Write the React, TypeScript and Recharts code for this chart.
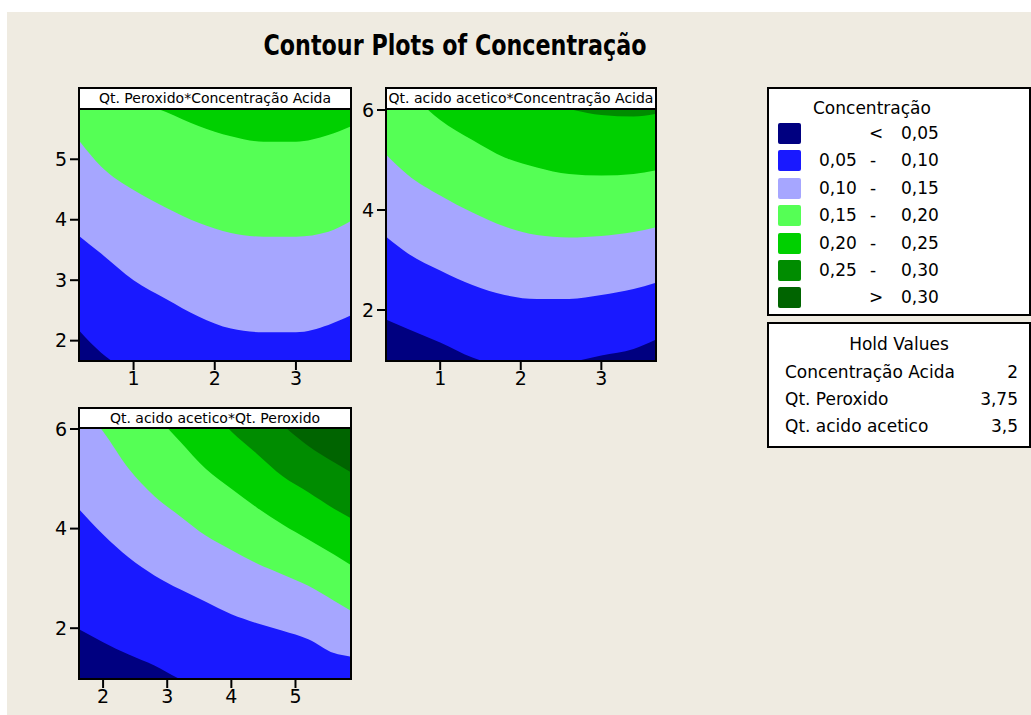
import React from 'react';
import { AreaChart, Area, XAxis, YAxis, CartesianGrid } from 'recharts';

const FONT = '"DejaVu Sans", Verdana, sans-serif';

// band colours, low -> high
const navy = '#000080';
const blue = '#1919FF';
const lavender = '#A6A6FF';
const lightGreen = '#55FF55';
const green = '#00D000';
const darkGreen = '#008C00';
const darkestGreen = '#006400';

// panel 1: Qt. Peroxido (y) vs Concentração Acida (x)
const p1X = [0.34, 0.6, 1.0, 1.4, 1.8, 2.2, 2.6, 3.0, 3.4, 3.666];
const p1B20 = [6.6, 6.3, 6.0, 5.78, 5.55, 5.38, 5.29, 5.29, 5.4, 5.54];
const p1B15 = [5.29, 4.88, 4.49, 4.2, 3.95, 3.78, 3.72, 3.72, 3.8, 3.97];
const p1B10 = [3.72, 3.44, 3.0, 2.69, 2.4, 2.2, 2.14, 2.14, 2.26, 2.41];
const p1B05 = [2.15, 1.8, 1.45, 1.2, 1.05, 1.0, 1.0, 1.05, 1.15, 1.25];

// panel 2: Qt. acido acetico (y) vs Concentração Acida (x)
const p2X = [0.34, 0.6, 1.0, 1.4, 1.8, 2.2, 2.6, 3.0, 3.4, 3.666];
const p2B25 = [7.5, 7.2, 6.9, 6.6, 6.35, 6.18, 6.02, 5.9, 5.87, 5.92];
const p2B20 = [6.9, 6.4, 5.8, 5.4, 5.05, 4.85, 4.72, 4.69, 4.72, 4.79];
const p2B15 = [5.09, 4.7, 4.29, 3.95, 3.67, 3.5, 3.45, 3.48, 3.56, 3.65];
const p2B10 = [3.45, 3.13, 2.79, 2.5, 2.3, 2.22, 2.22, 2.3, 2.42, 2.54];
const p2B05 = [1.8, 1.62, 1.35, 1.05, 0.88, 0.85, 0.95, 1.09, 1.22, 1.4];

// panel 3: Qt. acido acetico (y) vs Qt. Peroxido (x)
const p3X = [1.64, 2.0, 2.4, 2.8, 3.2, 3.6, 4.0, 4.4, 4.8, 5.2, 5.6, 5.85];
const p3B30 = [10, 9.6, 9.1, 8.6, 8.1, 7.6, 7.1, 6.6, 6.08, 5.66, 5.33, 5.14];
const p3B25 = [8.6, 8.3, 7.9, 7.45, 7.0, 6.5, 5.95, 5.5, 5.05, 4.73, 4.4, 4.22];
const p3B20 = [7.6, 7.3, 6.85, 6.3, 5.75, 5.2, 4.8, 4.42, 4.08, 3.78, 3.48, 3.28];
const p3B15 = [6.5, 5.95, 5.2, 4.65, 4.25, 3.86, 3.57, 3.3, 3.08, 2.85, 2.55, 2.36];
const p3B10 = [4.37, 3.88, 3.42, 3.06, 2.78, 2.53, 2.28, 2.1, 1.95, 1.78, 1.5, 1.43];
const p3B05 = [1.97, 1.72, 1.47, 1.25, 0.98, 0.85, 0.72, 0.6, 0.5, 0.42, 0.35, 0.3];

// legend
const legendColors = [navy, blue, lavender, lightGreen, green, darkGreen, darkestGreen];
const legendLow = ['', '0,05', '0,10', '0,15', '0,20', '0,25', ''];
const legendSep = ['<', '-', '-', '-', '-', '-', '>'];
const legendHigh = ['0,05', '0,10', '0,15', '0,20', '0,25', '0,30', '0,30'];

const holdNames = ['Concentração Acida', 'Qt. Peroxido', 'Qt. acido acetico'];
const holdValues = ['2', '3,75', '3,5'];

const tickStyle = { fontSize: 19, fill: '#000', fontFamily: FONT };
const tickLineStyle = { stroke: '#000', strokeWidth: 2 };

function ContourPanel({ left, top, width, height, xs, bounds, fills, topFill, xDomain, yDomain, xTicks, yTicks }: any) {
  const data = xs.map((x: number, i: number) => {
    const row: Record<string, number> = { x };
    bounds.forEach((b: number[], k: number) => {
      row['b' + k] = b[i];
    });
    return row;
  });
  return (
    <div style={{ position: 'absolute', left, top }}>
      <AreaChart width={width} height={height} data={data} margin={{ top: 10, right: 10, bottom: 0, left: 0 }}>
        <CartesianGrid horizontal={false} vertical={false} fill={topFill} fillOpacity={1} />
        <XAxis type="number" dataKey="x" domain={xDomain} ticks={xTicks} allowDataOverflow interval={0}
          axisLine={false} tickSize={10} tickMargin={2} height={40} tickLine={tickLineStyle} tick={tickStyle} />
        <YAxis type="number" domain={yDomain} ticks={yTicks} allowDataOverflow interval={0}
          axisLine={false} tickSize={10} tickMargin={3} width={70} tickLine={tickLineStyle} tick={tickStyle} />
        {bounds.map((_: number[], k: number) => (
          <Area key={k} type="monotone" dataKey={'b' + k} stroke="none" fill={fills[k]} fillOpacity={1}
            baseValue="dataMin" dot={false} activeDot={false} isAnimationActive={false} />
        ))}
      </AreaChart>
    </div>
  );
}

function Frame({ left, top, width, height, headerHeight, title }: any) {
  return (
    <>
      <div style={{ position: 'absolute', left, top, width, height, border: '2px solid #000', boxSizing: 'border-box', pointerEvents: 'none' }} />
      <div style={{
        position: 'absolute', left, top, width, height: headerHeight, border: '2px solid #000', boxSizing: 'border-box',
        background: '#fff', fontFamily: FONT, fontSize: 14, lineHeight: `${headerHeight - 4}px`, textAlign: 'center', whiteSpace: 'nowrap', color: '#000'
      }}>{title}</div>
    </>
  );
}

export default function App() {
  return (
    <div style={{ position: 'absolute', left: 0, top: 0, width: 1031, height: 715, background: '#fff', overflow: 'hidden' }}>
      <div style={{ position: 'absolute', left: 7, top: 12, width: 1024, height: 703, background: '#EFEBE1' }} />
      <svg style={{ position: 'absolute', left: 0, top: 0 }} width={1031} height={80}>
        <text x={455} y={55} textAnchor="middle" fontFamily={FONT} fontWeight="bold" fontSize={28}
          textLength={383} lengthAdjust="spacingAndGlyphs" fill="#000">Contour Plots of Concentração</text>
      </svg>

      <ContourPanel left={10} top={100} width={350} height={300} xs={p1X}
        bounds={[p1B20, p1B15, p1B10, p1B05]} fills={[lightGreen, lavender, blue, navy]} topFill={green}
        xDomain={[0.34, 3.666]} yDomain={[1.68, 5.815]} xTicks={[1, 2, 3]} yTicks={[2, 3, 4, 5]} />
      <ContourPanel left={317} top={100} width={348} height={300} xs={p2X}
        bounds={[p2B25, p2B20, p2B15, p2B10, p2B05]} fills={[green, lightGreen, lavender, blue, navy]} topFill={darkGreen}
        xDomain={[0.34, 3.666]} yDomain={[1, 6]} xTicks={[1, 2, 3]} yTicks={[2, 4, 6]} />
      <ContourPanel left={10} top={419} width={350} height={299} xs={p3X}
        bounds={[p3B30, p3B25, p3B20, p3B15, p3B10, p3B05]} fills={[darkGreen, green, lightGreen, lavender, blue, navy]} topFill={darkestGreen}
        xDomain={[1.64, 5.85]} yDomain={[1, 6]} xTicks={[2, 3, 4, 5]} yTicks={[2, 4, 6]} />

      <Frame left={78} top={87} width={274} height={275} headerHeight={23} title="Qt. Peroxido*Concentração Acida" />
      <Frame left={385} top={87} width={272} height={275} headerHeight={23} title="Qt. acido acetico*Concentração Acida" />
      <Frame left={78} top={407} width={274} height={273} headerHeight={22} title="Qt. acido acetico*Qt. Peroxido" />

      <div style={{ position: 'absolute', left: 767, top: 87, width: 264, height: 229, border: '2px solid #000', boxSizing: 'border-box', background: '#fff', fontFamily: FONT, fontSize: 17, color: '#000' }}>
        <div style={{ position: 'absolute', left: 44, top: 7, lineHeight: '24px' }}>Concentração</div>
        {legendColors.map((c, i) => (
          <React.Fragment key={i}>
            <div style={{ position: 'absolute', left: 9, top: 34 + i * 27.4, width: 23, height: 21, background: c, borderRadius: 2 }} />
            <div style={{ position: 'absolute', left: 50, top: 32 + i * 27.4, lineHeight: '24px' }}>{legendLow[i]}</div>
            <div style={{ position: 'absolute', left: legendSep[i] === '-' ? 101 : 100, top: 32 + i * 27.4, lineHeight: '24px' }}>{legendSep[i]}</div>
            <div style={{ position: 'absolute', left: 132, top: 32 + i * 27.4, lineHeight: '24px' }}>{legendHigh[i]}</div>
          </React.Fragment>
        ))}
      </div>

      <div style={{ position: 'absolute', left: 767, top: 322, width: 264, height: 126, border: '2px solid #000', boxSizing: 'border-box', background: '#fff', fontFamily: FONT, fontSize: 17, color: '#000' }}>
        <div style={{ position: 'absolute', left: 0, width: 260, top: 8, lineHeight: '24px', textAlign: 'center' }}>Hold Values</div>
        {holdNames.map((n, i) => (
          <React.Fragment key={n}>
            <div style={{ position: 'absolute', left: 16, top: 36 + i * 27, lineHeight: '24px', whiteSpace: 'nowrap' }}>{n}</div>
            <div style={{ position: 'absolute', right: 11, top: 36 + i * 27, lineHeight: '24px' }}>{holdValues[i]}</div>
          </React.Fragment>
        ))}
      </div>
    </div>
  );
}
